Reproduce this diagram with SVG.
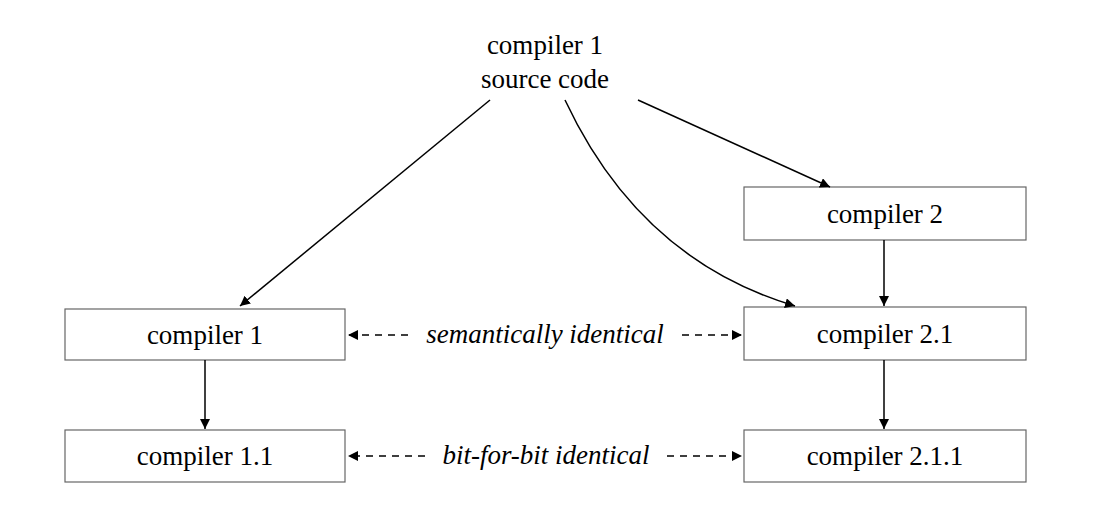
<svg xmlns="http://www.w3.org/2000/svg" width="1108" height="520" viewBox="0 0 1108 520">
<style>
text{font-family:"Liberation Serif",serif;font-size:27px;fill:#000;text-anchor:middle}
.i{font-style:italic}
rect{fill:#fff;stroke:#666;stroke-width:1.2}
.c{fill:none;stroke:#000;stroke-width:1.5}
.d{fill:none;stroke:#000;stroke-width:1.5;stroke-dasharray:7 6}
</style>
<defs>
<marker id="a" viewBox="0 0 10 10" refX="10" refY="5" markerWidth="10" markerHeight="10" markerUnits="userSpaceOnUse" orient="auto-start-reverse"><path d="M0,0L10,5L0,10z" fill="#000"/></marker>
</defs>
<rect width="1108" height="520" fill="#fff" style="stroke:none"/>
<g id="src"><text x="545" y="54">compiler 1</text><text x="545" y="88">source code</text></g>
<g id="c2"><rect x="744" y="187" width="282" height="53"/><text x="885" y="223">compiler 2</text></g>
<g id="c1"><rect x="65" y="309" width="280" height="51"/><text x="205" y="344">compiler 1</text></g>
<g id="c21"><rect x="744" y="307" width="282" height="53"/><text x="885" y="343">compiler 2.1</text></g>
<g id="c11"><rect x="65" y="430" width="280" height="52"/><text x="205" y="465">compiler 1.1</text></g>
<g id="c211"><rect x="744" y="430" width="282" height="52"/><text x="885" y="465">compiler 2.1.1</text></g>
<g id="connectors">
<path class="c" d="M490,100L240,306" marker-end="url(#a)"/>
<path class="c" d="M565,100Q640,260 795,306" marker-end="url(#a)"/>
<path class="c" d="M638,100L830,187" marker-end="url(#a)"/>
<path class="c" d="M884,240V306" marker-end="url(#a)"/>
<path class="c" d="M205,360V429" marker-end="url(#a)"/>
<path class="c" d="M884,360V429" marker-end="url(#a)"/>
<path class="d" d="M408,335H348" marker-end="url(#a)"/>
<path class="d" d="M682,335H742" marker-end="url(#a)"/>
<text class="i" x="545" y="343">semantically identical</text>
<path class="d" d="M425,456H348" marker-end="url(#a)"/>
<path class="d" d="M667,456H742" marker-end="url(#a)"/>
<text class="i" x="546" y="464">bit-for-bit identical</text>
</g>
</svg>
